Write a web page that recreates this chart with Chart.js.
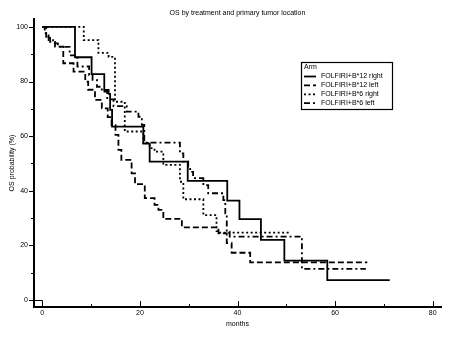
<!DOCTYPE html>
<html>
<head>
<meta charset="utf-8">
<script src="https://cdn.jsdelivr.net/npm/chart.js@4.4.1/dist/chart.umd.min.js"></script>
<style>
html,body{margin:0;padding:0;background:#fff;}
canvas{display:block;}
</style>
</head>
<body>
<canvas id="c" width="450" height="338"></canvas>
<script>
// ---- data (months, OS %) ----
const seriesLabels = ['FOLFIRI+B*12 right', 'FOLFIRI+B*12 left', 'FOLFIRI+B*6 right', 'FOLFIRI+B*6 left'];

const b12RightT = [0, 6.7, 10.1, 12.7, 13.6, 13.9, 14.3, 20.7, 22.0, 29.8, 37.9, 40.4, 44.8, 49.6, 58.4, 71.2];
const b12RightS = [100, 88.9, 82.7, 76.9, 75.5, 69.6, 63.5, 57.3, 50.7, 43.6, 36.4, 29.6, 22.0, 14.4, 7.3, 7.3];

const b12LeftT = [0, 0.8, 1.6, 2.6, 4.3, 6.4, 8.8, 9.4, 10.8, 12.2, 13.4, 14.2, 15.0, 15.6, 16.2, 18.3, 19.0, 21.0, 23.0, 23.8, 24.8, 28.6, 36.1, 37.8, 38.8, 42.6, 66.6];
const b12LeftS = [100, 96.4, 94.5, 92.8, 86.7, 83.6, 80.0, 77.0, 73.3, 70.2, 67.0, 64.0, 60.5, 55.0, 51.3, 46.4, 42.4, 37.3, 34.8, 33.0, 29.7, 26.6, 24.4, 20.8, 17.3, 13.8, 13.8];

const b6RightT = [0, 8.5, 11.5, 13.6, 14.9, 16.9, 20.7, 22.0, 23.0, 24.8, 28.2, 28.9, 33.0, 35.7, 36.4, 50.8];
const b6RightS = [100, 95.2, 90.5, 89.0, 72.6, 61.7, 57.5, 55.6, 54.3, 49.5, 43.3, 36.9, 31.1, 25.2, 24.7, 24.7];

const b6LeftT = [0, 0.5, 1.3, 2.2, 3.2, 5.6, 7.2, 9.6, 10.3, 11.2, 12.2, 13.3, 14.6, 17.3, 19.7, 20.4, 20.9, 28.2, 28.9, 29.9, 30.3, 30.9, 33.0, 34.0, 37.1, 37.5, 37.8, 38.4, 53.2, 66.3];
const b6LeftS = [100, 97.6, 95.2, 94.0, 92.7, 89.6, 85.5, 82.4, 80.6, 78.1, 76.3, 73.5, 71.0, 69.0, 67.1, 64.1, 57.6, 53.7, 50.7, 48.8, 46.9, 44.6, 42.1, 39.1, 36.6, 31.7, 25.0, 23.2, 11.4, 11.4];

const xTickLabels = [0, 20, 40, 60, 80];
const xMinorTicks = [0, 10, 20, 30, 40, 50, 60, 70, 80];
const yTickLabels = [0, 20, 40, 60, 80, 100];
const yMinorTicks = [0, 10, 20, 30, 40, 50, 60, 70, 80, 90, 100];

const FONT = "'Liberation Sans', Arial, sans-serif";
const pts = (t, s) => t.map((v, i) => ({x: v, y: s[i]}));

const styles = [
  {dash: []},
  {dash: [6, 3]},
  {dash: [2, 2.5]},
  {dash: [6, 3, 2, 3]}
];
const seriesData = [pts(b12RightT, b12RightS), pts(b12LeftT, b12LeftS), pts(b6RightT, b6RightS), pts(b6LeftT, b6LeftS)];

const datasets = seriesData.map((d, i) => ({
  label: seriesLabels[i],
  data: d,
  borderColor: '#000',
  borderWidth: 1.8,
  borderDash: styles[i].dash,
  stepped: 'before',
  pointRadius: 0,
  fill: false,
  tension: 0
}));

const decor = {
  id: 'decor',
  afterDraw(chart) {
    const {ctx, chartArea: a, scales: {x, y}} = chart;
    ctx.save();
    ctx.strokeStyle = '#000';
    ctx.lineWidth = 1;
    ctx.setLineDash([]);
    const line = (x1, y1, x2, y2) => { ctx.beginPath(); ctx.moveTo(x1, y1); ctx.lineTo(x2, y2); ctx.stroke(); };
    // x ticks (inward)
    xMinorTicks.forEach(v => {
      const px = Math.round(x.getPixelForValue(v)) + 0.5;
      const len = xTickLabels.includes(v) ? 6 : 3;
      line(px, a.bottom, px, a.bottom - len);
    });
    // y ticks (outward)
    yMinorTicks.forEach(v => {
      const py = Math.round(y.getPixelForValue(v)) + 0.5;
      const len = yTickLabels.includes(v) ? 5 : 3;
      line(a.left, py, a.left - len, py);
    });
    // origin box
    const x0 = Math.round(x.getPixelForValue(0)) + 0.5;
    const y0 = Math.round(y.getPixelForValue(0)) + 0.5;
    line(a.left, y0, x0, y0);
    line(x0, y0, x0, a.bottom);
    // legend
    const lx = 301, ly = 62, lw = 91, lh = 47;
    ctx.lineWidth = 1.2;
    ctx.strokeRect(lx + 0.5, ly + 0.5, lw, lh);
    ctx.fillStyle = '#000';
    ctx.font = '7px ' + FONT;
    ctx.textBaseline = 'middle';
    ctx.textAlign = 'left';
    ctx.fillText('Arm', lx + 3, ly + 5.5);
    chart.data.datasets.forEach((ds, i) => {
      const ry = ly + 14.5 + i * 8.9;
      ctx.setLineDash(ds.borderDash);
      ctx.lineWidth = 1.8;
      line(lx + 3, ry, lx + 15, ry);
      ctx.setLineDash([]);
      ctx.fillText(ds.label, lx + 20, ry);
    });
    ctx.restore();
  }
};

new Chart(document.getElementById('c'), {
  type: 'line',
  data: {datasets},
  options: {
    responsive: false,
    animation: false,
    layout: {padding: {left: 0, right: 9, top: 0, bottom: 0}},
    plugins: {
      legend: {display: false},
      tooltip: {enabled: false},
      title: {
        display: true,
        fullSize: false,
        text: 'OS by treatment and primary tumor location',
        color: '#000',
        font: {family: FONT, size: 7, weight: 'normal', lineHeight: 1.2},
        padding: {top: 9, bottom: 1.6}
      }
    },
    scales: {
      x: {
        type: 'linear',
        min: -1.7,
        max: 81.7,
        afterFit: s => { s.height = 31; },
        afterBuildTicks: s => { s.ticks = xTickLabels.map(v => ({value: v})); },
        grid: {display: true, drawOnChartArea: false, drawTicks: false},
        border: {display: true, width: 2, color: '#000'},
        ticks: {color: '#000', padding: 1.5, font: {family: FONT, size: 7}, maxRotation: 0, autoSkip: false},
        title: {display: true, text: 'months', color: '#000', font: {family: FONT, size: 7}, padding: {top: 0, bottom: 9.8}}
      },
      y: {
        type: 'linear',
        min: -2.56,
        max: 102.9,
        afterFit: s => { s.width = 34; },
        afterBuildTicks: s => { s.ticks = yTickLabels.map(v => ({value: v})); },
        grid: {display: true, drawOnChartArea: false, drawTicks: false},
        border: {display: true, width: 2, color: '#000'},
        ticks: {color: '#000', padding: 6, font: {family: FONT, size: 7}, autoSkip: false},
        title: {display: true, text: 'OS probability (%)', color: '#000', font: {family: FONT, size: 7}, padding: {top: 7.5, bottom: 0}}
      }
    }
  },
  plugins: [decor]
});
</script>
</body>
</html>
